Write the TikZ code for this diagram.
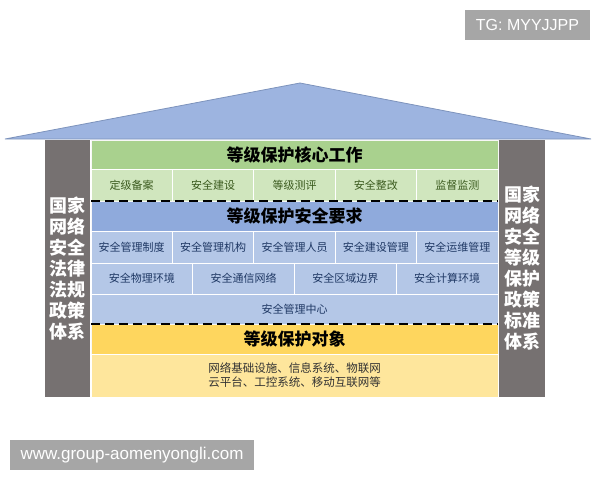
\documentclass[tikz,border=0pt]{standalone}
\usepackage{fontspec}
\newfontfamily\cjk{Noto Sans CJK SC}
\newfontfamily\wmfont{Liberation Sans}
\usepackage{xcolor}
\usepackage{tikz}

\definecolor{roofblue}{HTML}{9DB4E0}
\definecolor{roofline}{HTML}{7D93BC}
\definecolor{pillargray}{HTML}{767171}
\definecolor{greenhead}{HTML}{A9D18E}
\definecolor{greencell}{HTML}{D0E6BE}
\definecolor{greentext}{HTML}{3A5A1E}
\definecolor{bluehead}{HTML}{8FAADC}
\definecolor{bluecell}{HTML}{B4C7E7}
\definecolor{bluetext}{HTML}{1F3864}
\definecolor{yellowhead}{HTML}{FED65E}
\definecolor{yellowcell}{HTML}{FEE69C}
\definecolor{marktag}{HTML}{A6A6A6}

\begin{document}
\begin{tikzpicture}[x=1pt,y=-1pt,semithick]

\tikzstyle{every node}=[inner sep=0pt, outer sep=0pt, text centered]
\tikzstyle{pillar}=[rectangle, fill=pillargray, text=white, align=center,
minimum width=45pt, minimum height=257pt, font=\cjk\bfseries\fontsize{18}{21}\selectfont]
\tikzstyle{head}=[rectangle, draw=white!70!black!10, line width=0.6pt, text=black,
minimum width=407pt, font=\cjk\bfseries\fontsize{17}{20}\selectfont]
\tikzstyle{cell}=[rectangle, draw=white, line width=0.8pt,
font=\cjk\fontsize{11}{13}\selectfont]
\tikzstyle{gcell}=[cell, fill=greencell, text=greentext, minimum width=81.4pt, minimum height=32pt]
\tikzstyle{bcell}=[cell, fill=bluecell, text=bluetext, minimum height=31pt]
\tikzstyle{dashline}=[black, line width=2pt, dash pattern=on 9pt off 5pt]
\tikzstyle{tag}=[rectangle, fill=marktag, text=white, font=\wmfont\fontsize{16}{18}\selectfont]

\useasboundingbox (0,0) rectangle (600,480);

%roof
\draw[roofline, fill=roofblue, line width=0.8pt] (5,139) -- (300,83) -- (591,139) -- cycle;

%pillars
\node[pillar] (lpillar) at (67,268.5) {国家\\网络\\安全\\法律\\法规\\政策\\体系};
\node[pillar, minimum width=46pt] (rpillar) at (522,268.5) {国家\\网络\\安全\\等级\\保护\\政策\\标准\\体系};

%core work
\node[head, fill=greenhead, minimum height=29pt] (work) at (294.5,154.5) {等级保护核心工作};
\node[gcell] (w1) at (131.7,185) {定级备案};
\node[gcell] (w2) at (213.1,185) {安全建设};
\node[gcell] (w3) at (294.5,185) {等级测评};
\node[gcell] (w4) at (375.9,185) {安全整改};
\node[gcell] (w5) at (457.3,185) {监督监测};

%security requirements
\node[head, fill=bluehead, minimum height=30pt] (req) at (294.5,216) {等级保护安全要求};
\node[bcell, minimum width=81.4pt, minimum height=32pt] (m1) at (131.7,247) {安全管理制度};
\node[bcell, minimum width=81.4pt, minimum height=32pt] (m2) at (213.1,247) {安全管理机构};
\node[bcell, minimum width=81.4pt, minimum height=32pt] (m3) at (294.5,247) {安全管理人员};
\node[bcell, minimum width=81.4pt, minimum height=32pt] (m4) at (375.9,247) {安全建设管理};
\node[bcell, minimum width=81.4pt, minimum height=32pt] (m5) at (457.3,247) {安全运维管理};
\node[bcell, minimum width=101.75pt] (t1) at (141.9,278.5) {安全物理环境};
\node[bcell, minimum width=101.75pt] (t2) at (243.6,278.5) {安全通信网络};
\node[bcell, minimum width=101.75pt] (t3) at (345.4,278.5) {安全区域边界};
\node[bcell, minimum width=101.75pt] (t4) at (447.1,278.5) {安全计算环境};
\node[bcell, minimum width=407pt, minimum height=30pt] (center) at (294.5,309) {安全管理中心};

%protected objects
\node[head, fill=yellowhead, minimum height=30pt] (obj) at (294.5,339) {等级保护对象};
\node[cell, fill=yellowcell, text=black!80, minimum width=407pt, minimum height=43pt,
align=center, font=\cjk\fontsize{11.5}{14}\selectfont] (objlist) at (294.5,375.5)
{网络基础设施、信息系统、物联网\\云平台、工控系统、移动互联网等};

\draw[dashline] (w1.south west) -- (w5.south east);
\draw[dashline] (center.south west) -- (center.south east);

%marks
\node[tag, minimum width=125pt, minimum height=30pt] (tg) at (527.5,25) {TG: MYYJJPP};
\node[tag, minimum width=244pt, minimum height=30pt, font=\wmfont\fontsize{17}{19}\selectfont]
(site) at (132,455) {www.group-aomenyongli.com};

\end{tikzpicture}
\end{document}
